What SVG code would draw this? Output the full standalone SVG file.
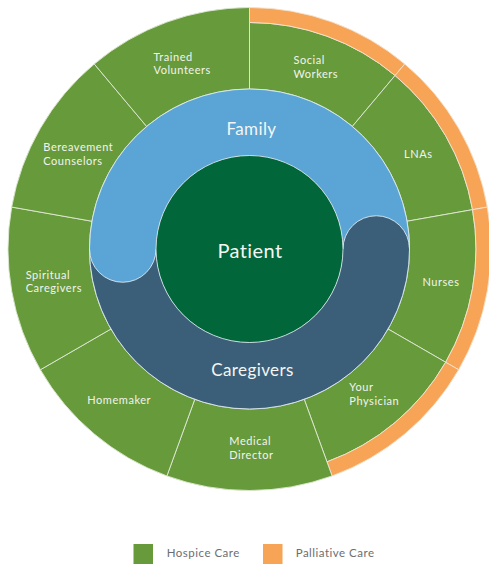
<svg xmlns="http://www.w3.org/2000/svg" width="489" height="564" viewBox="0 0 489 564">
<style>
.seg{fill:#679a3b;stroke:#dfe9d5;stroke-width:0.9}
.pal{fill:#f7a457;stroke:#f3e3cf;stroke-width:0.9}
.lbl{font-family:Lato,"Liberation Sans",sans-serif;font-size:11px;letter-spacing:0.55px;fill:#f2f4ef}
.big{font-family:Lato,"Liberation Sans",sans-serif;font-size:17px;letter-spacing:0.4px;fill:#f4f6f4;text-anchor:middle}
.edge{fill:none;stroke:#dbe8ef;stroke-width:0.9}
.leg{font-family:Lato,"Liberation Sans",sans-serif;font-size:11.5px;letter-spacing:0.5px;fill:#6d6e70}
</style>
<g id="social-workers">
<path class="seg" d="M249.5,22.5 A226.5,226.5 0 0 1 395.09,75.49 L352.35,126.43 A160,160 0 0 0 249.5,89 Z"/>
<path class="pal" d="M249.5,7.5 A241.5,241.5 0 0 1 404.73,64 L395.09,75.49 A226.5,226.5 0 0 0 249.5,22.5 Z"/>
<text class="lbl" x="293.5" y="64.3">Social</text>
<text class="lbl" x="293.5" y="78">Workers</text>
</g>
<g id="lnas">
<path class="seg" d="M395.09,75.49 A226.5,226.5 0 0 1 472.56,209.67 L407.07,221.22 A160,160 0 0 0 352.35,126.43 Z"/>
<path class="pal" d="M404.73,64 A241.5,241.5 0 0 1 487.33,207.06 L472.56,209.67 A226.5,226.5 0 0 0 395.09,75.49 Z"/>
<text class="lbl" x="404" y="157.7">LNAs</text>
</g>
<g id="nurses">
<path class="seg" d="M472.56,209.67 A226.5,226.5 0 0 1 445.66,362.25 L388.06,329 A160,160 0 0 0 407.07,221.22 Z"/>
<path class="pal" d="M487.33,207.06 A241.5,241.5 0 0 1 458.65,369.75 L445.66,362.25 A226.5,226.5 0 0 0 472.56,209.67 Z"/>
<text class="lbl" x="422.5" y="285.5">Nurses</text>
</g>
<g id="your-physician">
<path class="seg" d="M445.66,362.25 A226.5,226.5 0 0 1 326.97,461.84 L304.22,399.35 A160,160 0 0 0 388.06,329 Z"/>
<path class="pal" d="M458.65,369.75 A241.5,241.5 0 0 1 332.1,475.94 L326.97,461.84 A226.5,226.5 0 0 0 445.66,362.25 Z"/>
<text class="lbl" x="349.3" y="391.3">Your</text>
<text class="lbl" x="349.3" y="405.3">Physician</text>
</g>
<g id="medical-director">
<path class="seg" d="M332.1,475.94 A241.5,241.5 0 0 1 166.9,475.94 L194.78,399.35 A160,160 0 0 0 304.22,399.35 Z"/>
<text class="lbl" x="229.3" y="445">Medical</text>
<text class="lbl" x="229.3" y="459">Director</text>
</g>
<g id="homemaker">
<path class="seg" d="M166.9,475.94 A241.5,241.5 0 0 1 40.35,369.75 L110.94,329 A160,160 0 0 0 194.78,399.35 Z"/>
<text class="lbl" x="87.3" y="404">Homemaker</text>
</g>
<g id="spiritual-caregivers">
<path class="seg" d="M40.35,369.75 A241.5,241.5 0 0 1 11.67,207.06 L91.93,221.22 A160,160 0 0 0 110.94,329 Z"/>
<text class="lbl" x="25.7" y="278.7">Spiritual</text>
<text class="lbl" x="25.7" y="292">Caregivers</text>
</g>
<g id="bereavement-counselors">
<path class="seg" d="M11.67,207.06 A241.5,241.5 0 0 1 94.27,64 L146.65,126.43 A160,160 0 0 0 91.93,221.22 Z"/>
<text class="lbl" x="43.3" y="151">Bereavement</text>
<text class="lbl" x="43.3" y="164.7">Counselors</text>
</g>
<g id="trained-volunteers">
<path class="seg" d="M94.27,64 A241.5,241.5 0 0 1 249.5,7.5 L249.5,89 A160,160 0 0 0 146.65,126.43 Z"/>
<text class="lbl" x="153.5" y="60.5">Trained</text>
<text class="lbl" x="153.5" y="74.2">Volunteers</text>
</g>
<g id="family">
<path fill="#5aa5d6" d="M409.5,249 A160,160 0 0 0 89.5,249 A33.25,33.25 0 0 0 156,249 A93.5,93.5 0 0 1 343,249 Z"/>
<text class="big" x="251.5" y="135">Family</text>
</g>
<g id="caregivers">
<path fill="#3b5f79" d="M89.5,249 A160,160 0 0 0 409.5,249 A33.25,33.25 0 0 0 343,249 A93.5,93.5 0 0 1 156,249 Z"/>
<path class="edge" d="M409.5,249 A33.25,33.25 0 0 0 343,249"/>
<text class="big" x="252.5" y="376.3">Caregivers</text>
</g>
<g id="family-end">
<path fill="#5aa5d6" d="M89.5,249 A33.25,33.25 0 0 0 156,249 Z"/>
<path class="edge" d="M89.5,249 A33.25,33.25 0 0 0 156,249"/>
</g>
<g id="outline">
<circle class="edge" cx="249.5" cy="249" r="160"/>
</g>
<g id="patient">
<circle cx="249.5" cy="249" r="93.5" fill="#01673a" stroke="#d6e4ea" stroke-width="0.9"/>
<text class="big" x="250" y="257.5" style="font-size:20px">Patient</text>
</g>
<g id="legend">
<rect x="133.5" y="544" width="19.5" height="20" fill="#679a3b"/>
<text class="leg" x="166.7" y="556.7">Hospice Care</text>
<rect x="263" y="544" width="19.5" height="20" fill="#f7a457"/>
<text class="leg" x="295.7" y="556.7">Palliative Care</text>
</g>
</svg>
